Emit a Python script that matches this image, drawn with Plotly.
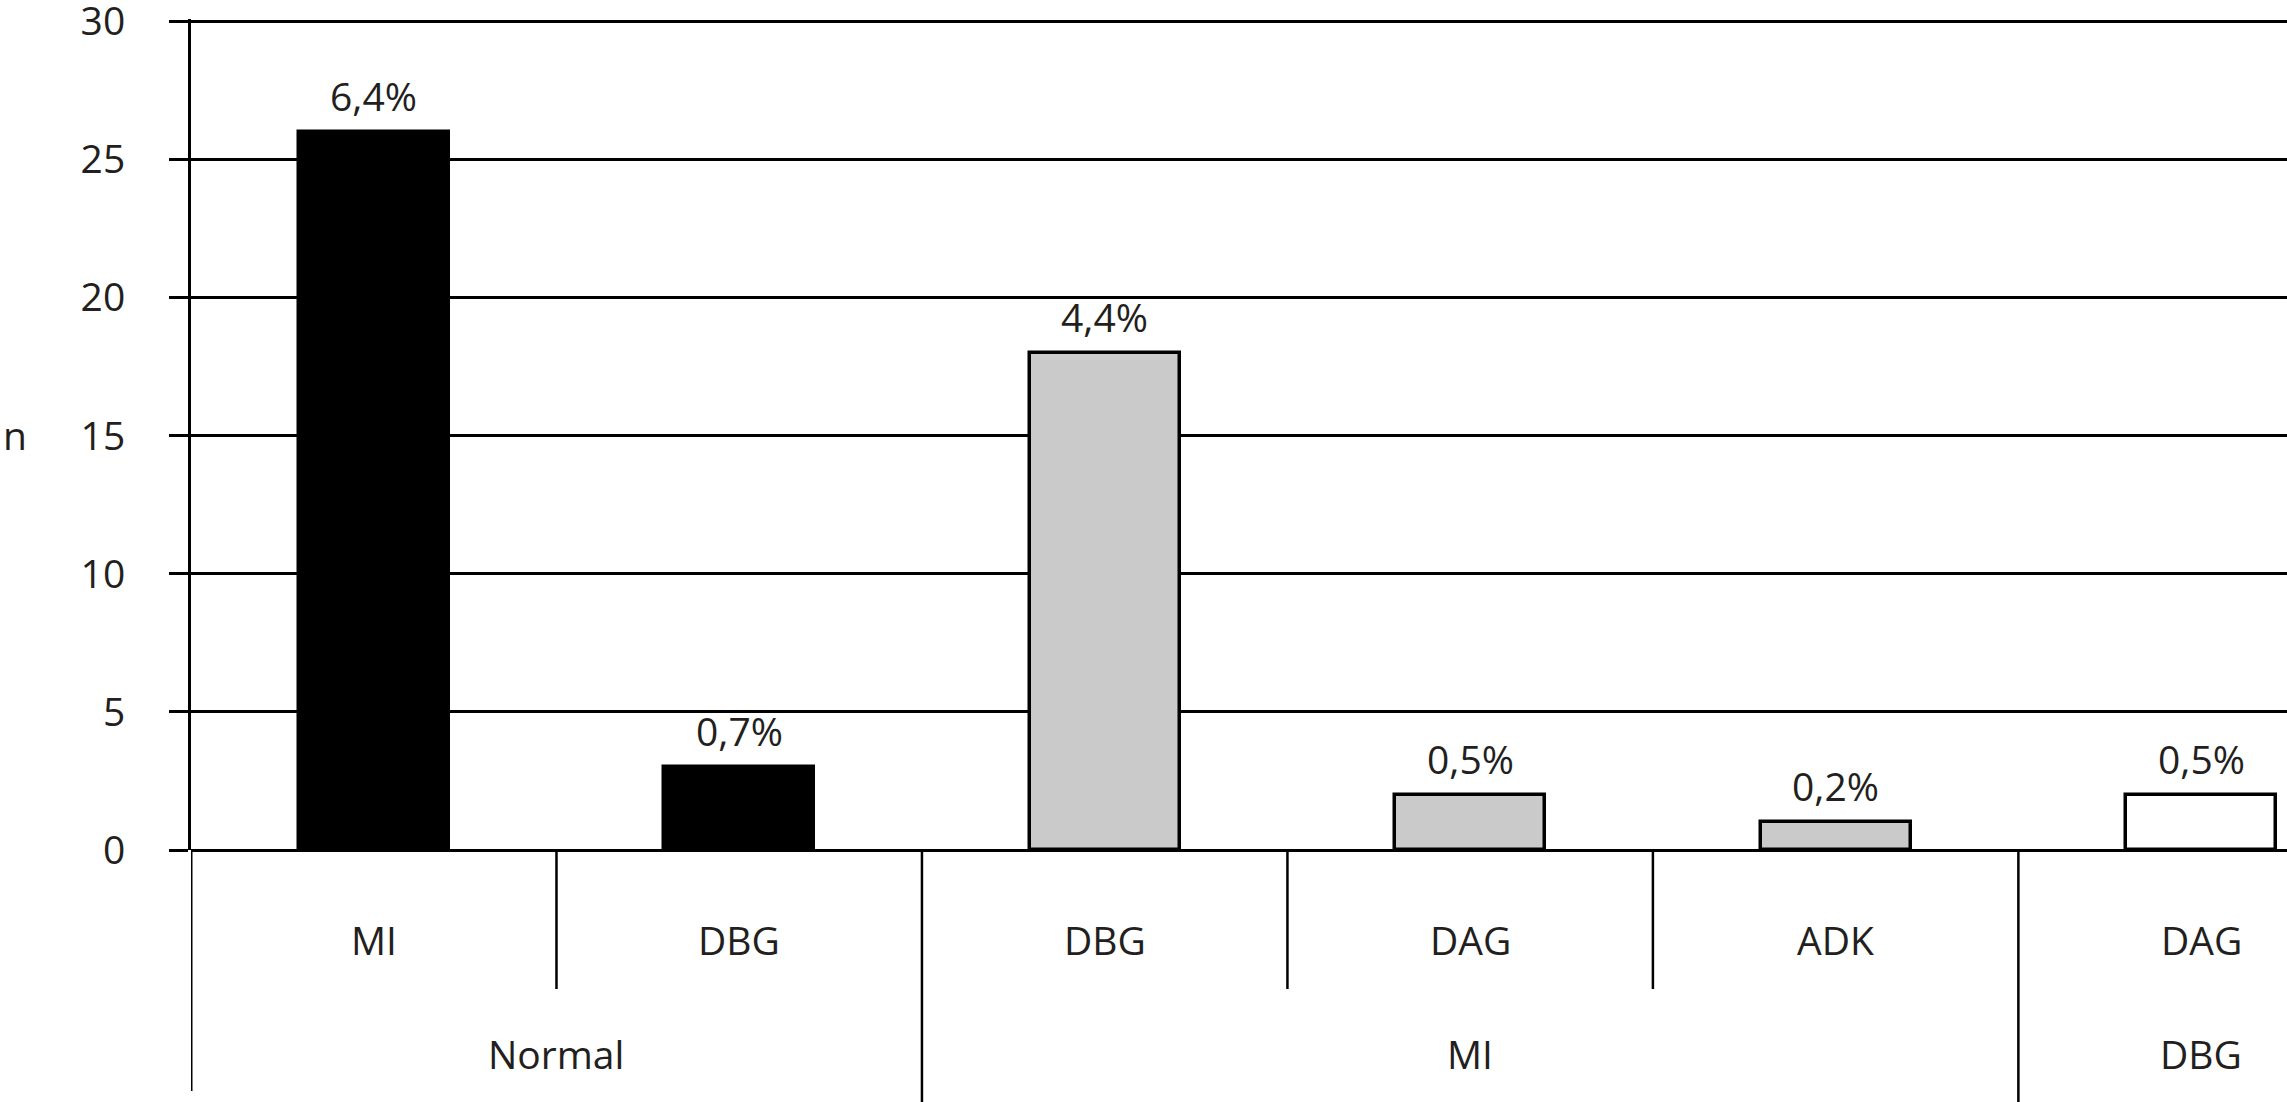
import plotly.graph_objects as go

# Data
inner_labels = ["MI", "DBG", "DBG", "DAG", "ADK", "DAG"]
group_labels = ["Normal", "Normal", "MI", "MI", "MI", "DBG"]
counts = [26, 3, 18, 2, 1, 2]
pct_labels = ["6,4%", "0,7%", "4,4%", "0,5%", "0,2%", "0,5%"]
bar_colors = ["#000000", "#000000", "#cacaca", "#cacaca", "#cacaca", "#ffffff"]
y_ticks = [0, 5, 10, 15, 20, 25, 30]
y_title = "n"

FONT = "Open Sans"
TXT = "#231f20"
FS = 39

x = list(range(len(inner_labels)))

fig = go.Figure(
    go.Bar(
        x=x,
        y=counts,
        width=0.41,
        marker=dict(color=bar_colors, line=dict(color="black", width=3.5)),
        hoverinfo="skip",
        cliponaxis=False,
    )
)

annotations = []
# percent labels above bars
for xi, v, t in zip(x, counts, pct_labels):
    annotations.append(dict(x=xi, y=v, xref="x", yref="y", text=t, showarrow=False,
                            yanchor="bottom", yshift=8,
                            font=dict(family=FONT, size=FS, color=TXT)))
# inner category labels
for xi, t in zip(x, inner_labels):
    annotations.append(dict(x=xi, y=0, xref="x", yref="paper", text=t, showarrow=False,
                            yanchor="middle", yshift=-89,
                            font=dict(family=FONT, size=FS, color=TXT)))
# group labels (centred over their consecutive run of categories)
runs = []
for i, g in enumerate(group_labels):
    if runs and runs[-1][0] == g:
        runs[-1][1].append(i)
    else:
        runs.append((g, [i]))
for g, idx in runs:
    cx = (x[idx[0]] + x[idx[-1]]) / 2
    annotations.append(dict(x=cx, y=0, xref="x", yref="paper", text=g, showarrow=False,
                            yanchor="middle", yshift=-203,
                            font=dict(family=FONT, size=FS, color=TXT)))
# y axis title
annotations.append(dict(x=0, y=0.5, xref="paper", yref="paper", text=y_title, showarrow=False,
                        xanchor="center", yanchor="middle", xshift=-176,
                        font=dict(family=FONT, size=FS, color=TXT)))

shapes = []
# separators below axis
for i in range(len(x) - 1):
    long_sep = group_labels[i] != group_labels[i + 1]
    shapes.append(dict(type="line", xref="x", yref="paper", ysizemode="pixel", yanchor=0,
                       x0=x[i] + 0.5, x1=x[i] + 0.5, y0=0, y1=-260 if long_sep else -139,
                       line=dict(color="black", width=2.5)))
# left axis extension
shapes.append(dict(type="line", xref="x", yref="paper", ysizemode="pixel", yanchor=0,
                   x0=x[0] - 0.5, x1=x[0] - 0.5, y0=0, y1=-241,
                   line=dict(color="black", width=3)))

fig.update_layout(
    width=2287, height=1102,
    margin=dict(l=191, r=0, t=19, b=252, autoexpand=False),
    paper_bgcolor="white", plot_bgcolor="white",
    showlegend=False,
    bargap=0,
    annotations=annotations,
    shapes=shapes,
    xaxis=dict(range=[-0.5, 5.235], showticklabels=False, showgrid=False, zeroline=False,
               showline=False, ticks="", fixedrange=True, automargin=False),
    yaxis=dict(range=[0, 30.1], tickvals=y_ticks, ticks="outside", ticklen=19, tickwidth=3,
               tickcolor="black", showgrid=True, gridcolor="black", gridwidth=3,
               zeroline=True, zerolinecolor="black", zerolinewidth=3,
               showline=True, linecolor="black", linewidth=3,
               ticklabelstandoff=36, ticklabeloverflow="allow", automargin=False,
               tickfont=dict(family=FONT, size=FS, color=TXT), fixedrange=True),
)

fig.write_html("out.html", config={"displayModeBar": False},
               post_script="document.body.style.margin='0';document.body.style.overflow='hidden';")
